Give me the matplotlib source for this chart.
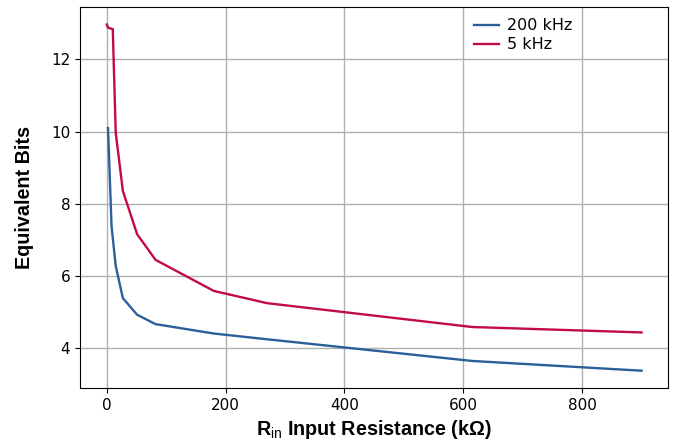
import numpy as np
import matplotlib.pyplot as plt

plt.rcParams['mathtext.fontset'] = 'custom'
plt.rcParams['mathtext.rm'] = 'Liberation Sans'
plt.rcParams['mathtext.bf'] = 'Liberation Sans:bold'

r_200k = [2, 8, 15, 27, 51, 82, 180, 270, 615, 900]
bits_200k = [10.1, 7.37, 6.28, 5.39, 4.93, 4.67, 4.41, 4.25, 3.65, 3.38]
r_5k = [0, 2, 10, 15, 27, 51, 82, 180, 270, 615, 900]
bits_5k = [12.97, 12.88, 12.84, 9.97, 8.36, 7.16, 6.45, 5.59, 5.25, 4.59, 4.44]

fig = plt.figure(figsize=(6.73, 4.46), dpi=100)
ax = fig.add_axes([0.119, 0.130, 0.874, 0.854])
ax.plot(r_200k, bits_200k, color='#2c5f9a', linewidth=1.7, label='200 kHz')
ax.plot(r_5k, bits_5k, color='#c20a45', linewidth=1.7, label='5 kHz')
ax.set_xlim(-45, 945)
ax.set_yticks([4, 6, 8, 10, 12])
ax.set_xticks([0, 200, 400, 600, 800])
ax.grid(True, color='#b0b0b0', linewidth=1.0)
ax.set_axisbelow(True)
ax.tick_params(labelsize=11)
ax.set_xlabel(r"$\mathbf{R}_{\mathrm{in}}$ Input Resistance (kΩ)", fontsize=14.2,
              fontweight='bold', family='Liberation Sans', labelpad=4)
ax.set_ylabel("Equivalent Bits", fontsize=14.2, fontweight='bold', family='Liberation Sans',
              labelpad=12)
ax.legend(loc='upper left', bbox_to_anchor=(0.65, 1.0), frameon=False, fontsize=11.5,
          handlelength=1.6, handletextpad=0.5, borderaxespad=0.3, labelspacing=0.25)
fig.savefig('out.png', dpi=100)
